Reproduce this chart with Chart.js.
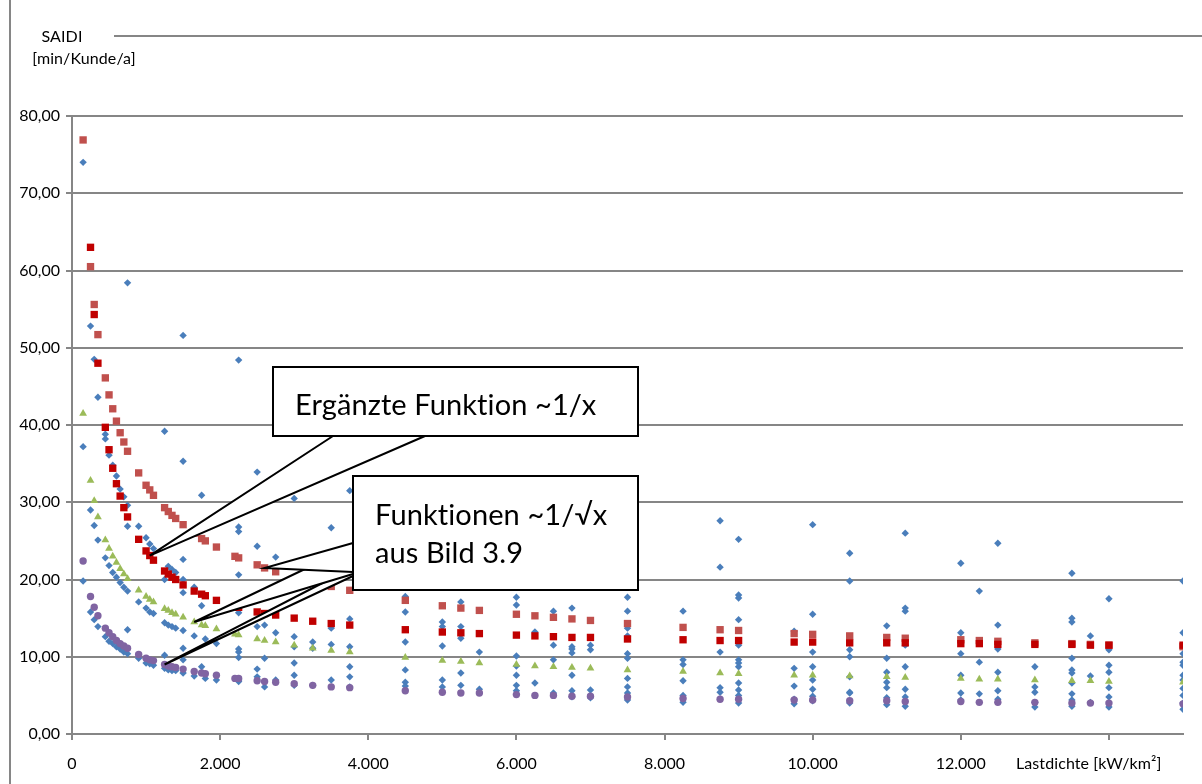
<!DOCTYPE html>
<html>
<head>
<meta charset="utf-8">
<script src="https://cdn.jsdelivr.net/npm/chart.js@4.4.1/dist/chart.umd.min.js"></script>
<style>
  html, body { margin: 0; padding: 0; background: #fff; }
  #wrap { width: 1202px; height: 784px; }
</style>
</head>
<body>
<div id="wrap"><canvas id="saidi" width="1202" height="784"></canvas></div>
<script>
// Messwerte: Lastdichte (kW/km²) je Spalte und die SAIDI-Werte (min/Kunde/a) der Netze an dieser Stelle
const measuredLoad = [150, 250, 300, 350, 450, 500, 550, 600, 650, 700, 750, 900, 1000, 1050, 1100,
  1250, 1300, 1350, 1400, 1500, 1650, 1750, 1800, 1950, 2250, 2500, 2600, 2750, 3000, 3250, 3500, 3750,
  4500, 5000, 5250, 5500, 6000, 6250, 6500, 6750, 7000, 7500, 8250, 8750, 9000, 9750, 10000, 10500,
  11000, 11250, 12000, 12250, 12500, 13000, 13500, 13750, 14000, 15000];
const measuredSaidi = [
  [74.0, 37.2, 19.8], [52.8, 29.0, 15.8], [48.5, 27.0, 14.8], [43.6, 25.1, 13.9],
  [38.8, 38.2, 22.8, 12.6], [36.1, 21.8, 12.0], [34.8, 20.9, 11.7], [33.4, 20.3, 11.3],
  [31.7, 19.6, 11.0], [30.7, 19.0, 10.6], [58.4, 29.6, 26.9, 18.5, 13.5, 10.4], [26.9, 17.1, 9.8],
  [25.4, 16.3, 9.2], [24.6, 15.8, 9.1], [24.0, 15.6, 8.9], [39.2, 20.0, 14.4, 10.2, 8.5],
  [21.7, 14.1, 8.3], [21.3, 13.9, 8.2], [20.9, 13.7, 8.2],
  [51.6, 35.3, 22.6, 20.0, 18.3, 13.4, 11.1, 9.6, 7.9], [19.0, 12.7, 7.5], [30.9, 16.6, 8.7],
  [12.3, 7.2], [11.7, 7.0], [48.4, 26.8, 26.2, 20.6, 15.7, 11.0, 10.6, 9.9, 7.0, 6.8],
  [33.9, 24.3, 13.9, 8.4, 7.4], [14.1, 9.8, 6.1], [22.9, 13.1, 7.0], [30.5, 12.6, 11.3, 9.2, 7.6, 6.3],
  [11.9, 11.1, 6.3], [26.7, 13.7, 11.6, 7.0], [31.5, 14.9, 11.3, 8.7, 7.4, 6.1],
  [17.8, 15.8, 11.9, 8.3, 6.7, 6.2], [14.5, 13.9, 11.4, 7.0, 6.1], [17.1, 13.9, 12.4, 7.9, 6.3],
  [10.6, 5.8], [17.7, 16.7, 10.1, 8.8, 7.6, 6.3, 5.6], [13.2, 6.6], [15.9, 11.5, 9.6, 5.3],
  [16.3, 11.3, 11.0, 10.5, 7.6, 5.6, 4.8], [11.5, 10.9, 5.7, 4.7],
  [17.7, 15.9, 13.7, 12.7, 10.4, 9.8, 7.2, 6.1, 5.3, 4.4], [15.9, 9.6, 9.0, 6.9, 5.0, 4.1],
  [27.6, 21.6, 10.6, 6.0, 5.4], [25.2, 18.0, 17.6, 14.8, 11.5, 9.6, 9.2, 8.7, 6.6, 5.7, 5.0, 4.0],
  [13.3, 8.5, 6.2, 4.5, 3.9], [27.1, 15.5, 10.6, 8.7, 7.0, 5.8, 4.9, 4.3],
  [23.4, 19.8, 10.9, 10.0, 7.4, 5.4, 5.3, 4.0], [14.0, 9.8, 8.0, 6.7, 6.0, 4.7, 3.8],
  [26.0, 16.3, 15.9, 11.5, 8.7, 5.8, 4.8, 3.6], [22.1, 13.1, 10.4, 7.6, 5.3, 4.4], [18.5, 9.3, 5.2],
  [24.7, 14.1, 11.0, 8.0, 5.6, 4.5], [8.7, 6.1, 5.4, 4.1, 3.5],
  [20.8, 15.0, 14.5, 9.8, 8.3, 7.9, 6.6, 5.2, 4.4, 3.6], [12.7, 7.5, 4.1],
  [17.5, 10.9, 8.9, 8.0, 6.0, 4.8, 3.5], [19.8, 13.1, 10.4, 9.3, 8.9, 7.6, 7.0, 5.9, 5.0, 4.0, 3.2]
];

// Stützstellen der Näherungsfunktionen
const fitLoad = [150, 250, 300, 350, 450, 500, 550, 600, 650, 700, 750, 900, 1000, 1050, 1100,
  1250, 1300, 1350, 1400, 1500, 1650, 1750, 1800, 1950, 2200, 2250, 2500, 2600, 2750, 3000, 3250,
  3500, 3750, 4500, 5000, 5250, 5500, 6000, 6250, 6500, 6750, 7000, 7500, 8250, 8750, 9000, 9750,
  10000, 10500, 11000, 11250, 12000, 12250, 12500, 13000, 13500, 13750, 14000, 15000];
// ~1/√x, obere, mittlere und untere Kurve
const fitSqrtUpper = [76.9, 60.5, 55.6, 51.7, 46.1, 43.9, 42.1, 40.5, 39.0, 37.8, 36.6, 33.8, 32.2,
  31.6, 30.9, 29.3, 28.8, 28.3, 27.9, 27.1, 26.0, 25.3, 25.0, 24.2, 23.0, 22.8, 21.9, 21.5, 21.0,
  null, null, 19.1, 18.6, 17.3, 16.6, 16.3, 16.0, 15.5, 15.3, 15.1, 14.9, 14.7, 14.3, 13.8, 13.5,
  13.4, 13.0, 12.9, 12.7, 12.5, 12.4, 12.2, 12.1, 12.0, 11.8, 11.7, 11.6, 11.5, 11.3];
const fitSqrtMid = [41.5, 32.8, 30.2, 28.1, 25.1, 24.0, 23.0, 22.2, 21.4, 20.7, 20.1, 18.6, 17.8,
  17.4, 17.1, 16.2, 16.0, 15.7, 15.5, 15.1, 14.5, 14.1, 14.0, 13.6, 12.9, 12.8, 12.3, 12.1, 11.9,
  11.5, 11.1, 10.8, 10.6, 9.9, 9.5, 9.4, 9.2, 9.0, 8.8, 8.7, 8.6, 8.5, 8.3, 8.1, 7.9, 7.8, 7.6,
  7.6, 7.5, 7.4, 7.3, 7.2, 7.1, 7.1, 7.0, 6.9, 6.9, 6.8, 6.7];
const fitSqrtLower = [22.4, 17.8, 16.4, 15.3, 13.7, 13.1, 12.6, 12.1, 11.7, 11.4, 11.1, 10.3, 9.8,
  9.6, 9.5, 9.0, 8.8, 8.7, 8.6, 8.4, 8.1, 7.9, 7.8, 7.6, 7.2, 7.2, 6.9, 6.8, 6.7, 6.5, 6.3, 6.1,
  6.0, 5.6, 5.4, 5.3, 5.3, 5.1, 5.0, 5.0, 4.9, 4.9, 4.8, 4.6, 4.5, 4.5, 4.4, 4.4, 4.3, 4.3, 4.2,
  4.2, 4.1, 4.1, 4.1, 4.0, 4.0, 4.0, 3.9];
// ergänzte Funktion ~1/x
const fitInverse = [null, 63.0, 54.3, 48.0, 39.7, 36.8, 34.4, 32.4, 30.8, 29.3, 28.1, 25.2, 23.7,
  23.1, 22.5, 21.1, 20.7, 20.3, 20.0, 19.3, 18.5, 18.1, 17.9, 17.3, 16.5, 16.4, 15.8, 15.6, 15.4,
  15.0, 14.6, 14.3, 14.1, 13.5, 13.2, 13.1, 13.0, 12.8, 12.7, 12.6, 12.5, 12.5, 12.3, 12.2, 12.1,
  12.1, 11.9, 11.9, 11.8, 11.8, 11.8, 11.7, 11.7, 11.6, 11.6, 11.6, 11.5, 11.5, 11.5];

// Achsenteilung; an der Stelle 14.000 steht der Achsentitel statt einer Zahl
const xTickValues = [0, 2000, 4000, 6000, 8000, 10000, 12000, 14000];
const xTitleTick = 14000;
const yAxisTitle = ['SAIDI', '[min/Kunde/a]'];
const xAxisTitle = 'Lastdichte [kW/km²]';

const GRID = '#868686';
const FONT = 'Lato, "Open Sans", sans-serif';

const measuredPoints = [];
measuredLoad.forEach((x, i) => measuredSaidi[i].forEach(y => measuredPoints.push({ x, y })));
const fitPoints = ys => fitLoad.map((x, i) => ({ x, y: ys[i] })).filter(p => p.y !== null);

const thousands = v => String(v).replace(/\B(?=(\d{3})+(?!\d))/g, '.');

// Beschriftungen, Rahmenlinien und die beiden Legendenkästen
const notes = {
  id: 'notes',
  afterDraw(chart) {
    const { ctx } = chart;
    const xs = chart.scales.x, ys = chart.scales.y;
    const at = (vx, vy) => [xs.getPixelForValue(vx), ys.getPixelForValue(vy)];
    ctx.save();
    ctx.letterSpacing = '0.1px'; // keine ti-Ligatur

    ctx.strokeStyle = GRID;
    ctx.lineWidth = 2;
    ctx.beginPath();
    ctx.moveTo(10, 0); ctx.lineTo(10, 784);
    ctx.moveTo(114, 36); ctx.lineTo(1202, 36);
    ctx.stroke();

    ctx.fillStyle = '#000';
    ctx.font = '16px ' + FONT;
    ctx.textBaseline = 'middle';
    ctx.textAlign = 'center';
    ctx.fillText(yAxisTitle[0], 62, 37);
    ctx.fillText(yAxisTitle[1], 84, 59);
    ctx.textAlign = 'left';
    ctx.fillText(xAxisTitle, xs.getPixelForValue(xTitleTick) - 93, 764);

    const tail = (b1, tip, b2) => {
      ctx.beginPath();
      ctx.moveTo(b1[0], b1[1]);
      ctx.lineTo(tip[0], tip[1]);
      ctx.lineTo(b2[0], b2[1]);
      ctx.closePath();
      ctx.fillStyle = '#fff';
      ctx.fill();
      ctx.beginPath();
      ctx.moveTo(b1[0], b1[1]);
      ctx.lineTo(tip[0], tip[1]);
      ctx.lineTo(b2[0], b2[1]);
      ctx.stroke();
    };
    const box = (x0, y0, x1, y1) => {
      ctx.fillStyle = '#fff';
      ctx.fillRect(x0, y0, x1 - x0, y1 - y0);
      ctx.strokeRect(x0, y0, x1 - x0, y1 - y0);
    };

    ctx.strokeStyle = '#000';
    ctx.lineWidth = 2;
    ctx.lineJoin = 'miter';

    tail([333, 436], at(1050, 23.1), [425, 436]);
    box(273, 367, 638, 436);

    tail([340, 574], at(1250, 9.0), [353, 576]);
    tail([353, 546], at(1650, 14.5), [353, 574]);
    tail([353, 543], at(2600, 21.5), [353, 572]);
    box(353, 476, 638, 590);

    ctx.fillStyle = '#000';
    ctx.font = '29px ' + FONT;
    ctx.textBaseline = 'alphabetic';
    ctx.textAlign = 'left';
    ctx.fillText('Ergänzte Funktion ~1/x', 295, 415);
    ctx.fillText('Funktionen ~1/√x', 375, 525);
    ctx.fillText('aus Bild 3.9', 375, 563);
    ctx.restore();
  }
};

new Chart(document.getElementById('saidi'), {
  type: 'scatter',
  data: {
    datasets: [
      { label: 'Netze', data: measuredPoints, order: 5, pointStyle: 'rectRot', pointRadius: 3.7,
        backgroundColor: '#4A7EBB', borderWidth: 0 },
      { label: '~1/√x oben', data: fitPoints(fitSqrtUpper), order: 4, pointStyle: 'rect', pointRadius: 5.2,
        backgroundColor: '#C0504D', borderWidth: 0 },
      { label: '~1/√x Mitte', data: fitPoints(fitSqrtMid), order: 3, pointStyle: 'triangle', pointRadius: 4.5,
        backgroundColor: '#9BBB59', borderWidth: 0 },
      { label: '~1/√x unten', data: fitPoints(fitSqrtLower), order: 2, pointStyle: 'circle', pointRadius: 3.7,
        backgroundColor: '#8064A2', borderWidth: 0 },
      { label: '~1/x', data: fitPoints(fitInverse), order: 1, pointStyle: 'rect', pointRadius: 5.2,
        backgroundColor: '#C00000', borderWidth: 0 }
    ]
  },
  options: {
    responsive: false,
    animation: false,
    events: [],
    layout: { padding: { top: 116, right: 19, left: 0, bottom: 0 } },
    plugins: { legend: { display: false }, tooltip: { enabled: false } },
    scales: {
      x: {
        type: 'linear',
        min: 0,
        max: 15000,
        afterFit: s => { s.height = 50; },
        afterBuildTicks: s => { s.ticks = xTickValues.map(value => ({ value })); },
        ticks: {
          autoSkip: false,
          maxRotation: 0,
          padding: 14,
          color: '#000',
          font: { family: FONT, size: 16 },
          callback: v => (v === xTitleTick ? '' : thousands(v))
        },
        grid: { drawOnChartArea: false, tickLength: 6, color: GRID, lineWidth: 2 },
        border: { color: GRID, width: 2 }
      },
      y: {
        min: 0,
        max: 80,
        afterFit: s => { s.width = 72; },
        ticks: {
          stepSize: 10,
          padding: 6,
          color: '#000',
          font: { family: FONT, size: 16 },
          callback: v => v.toFixed(2).replace('.', ',')
        },
        grid: { tickLength: 6, color: GRID, lineWidth: 2 },
        border: { color: GRID, width: 2 }
      }
    }
  },
  plugins: [notes]
});
</script>
</body>
</html>
